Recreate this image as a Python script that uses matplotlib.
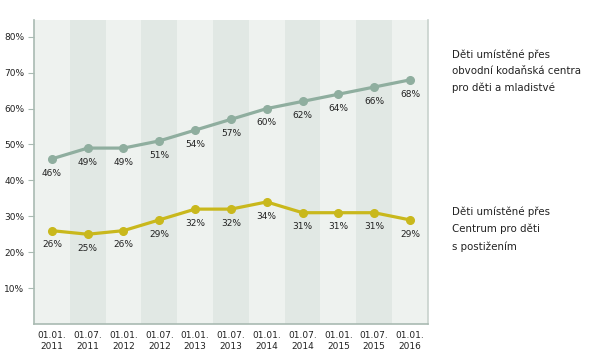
import matplotlib
matplotlib.use('Agg')
import matplotlib.pyplot as plt

dates = ['01.01.\n2011', '01.07.\n2011', '01.01.\n2012', '01.07.\n2012', '01.01.\n2013',
         '01.07.\n2013', '01.01.\n2014', '01.07.\n2014', '01.01.\n2015', '01.07.\n2015',
         '01.01.\n2016']
centra = [46, 49, 49, 51, 54, 57, 60, 62, 64, 66, 68]
postizeni = [26, 25, 26, 29, 32, 32, 34, 31, 31, 31, 29]
yticks = [10, 20, 30, 40, 50, 60, 70, 80]

green = '#8fae9f'
yellow = '#c9b81c'
axis_col = '#a9bab2'

fig = plt.figure(figsize=(5.95, 3.59), dpi=100)
ax = fig.add_axes([0.0571, 0.0975, 0.662, 0.847])

x = list(range(len(dates)))
for i in x:
    col = '#eef2ef' if i % 2 == 0 else '#e1e8e4'
    ax.axvspan(i - 0.5, i + 0.5, color=col, lw=0, zorder=0)

ax.plot(x, centra, color=green, lw=2.3, marker='o', ms=5.5, zorder=3)
ax.plot(x, postizeni, color=yellow, lw=2.3, marker='o', ms=5.5, zorder=3)

for i in x:
    ax.annotate(f'{centra[i]}%', (i, centra[i]), xytext=(0, -7), textcoords='offset points',
                ha='center', va='top', fontsize=6.5, color='#222222')
    ax.annotate(f'{postizeni[i]}%', (i, postizeni[i]), xytext=(0, -7), textcoords='offset points',
                ha='center', va='top', fontsize=6.5, color='#222222')

ax.set_xlim(-0.5, len(dates) - 0.5)
ax.set_ylim(0, 84.7)
ax.set_yticks(yticks)
ax.set_yticklabels([f'{v}%' for v in yticks], fontsize=6.5, color='#222222')
ax.set_xticks(x)
ax.set_xticklabels(dates, fontsize=6.5, color='#222222', linespacing=1.3)
ax.tick_params(axis='x', length=0, pad=5)
ax.tick_params(axis='y', length=4, color=axis_col, pad=3)

ax.spines['top'].set_visible(False)
for s in ['left', 'bottom', 'right']:
    ax.spines[s].set_color(axis_col)
    ax.spines[s].set_linewidth(1.2)
ax.spines['right'].set_color('#c8d2cd')

fig.text(0.76, 0.863, 'Děti umístěné přes\nobvodní kodaňská centra\npro děti a mladistvé',
         fontsize=7.4, va='top', ha='left', linespacing=1.8, color='#222222')
fig.text(0.76, 0.425, 'Děti umístěné přes\nCentrum pro děti\ns postižením',
         fontsize=7.4, va='top', ha='left', linespacing=1.8, color='#222222')

fig.savefig('out.png', dpi=100)
